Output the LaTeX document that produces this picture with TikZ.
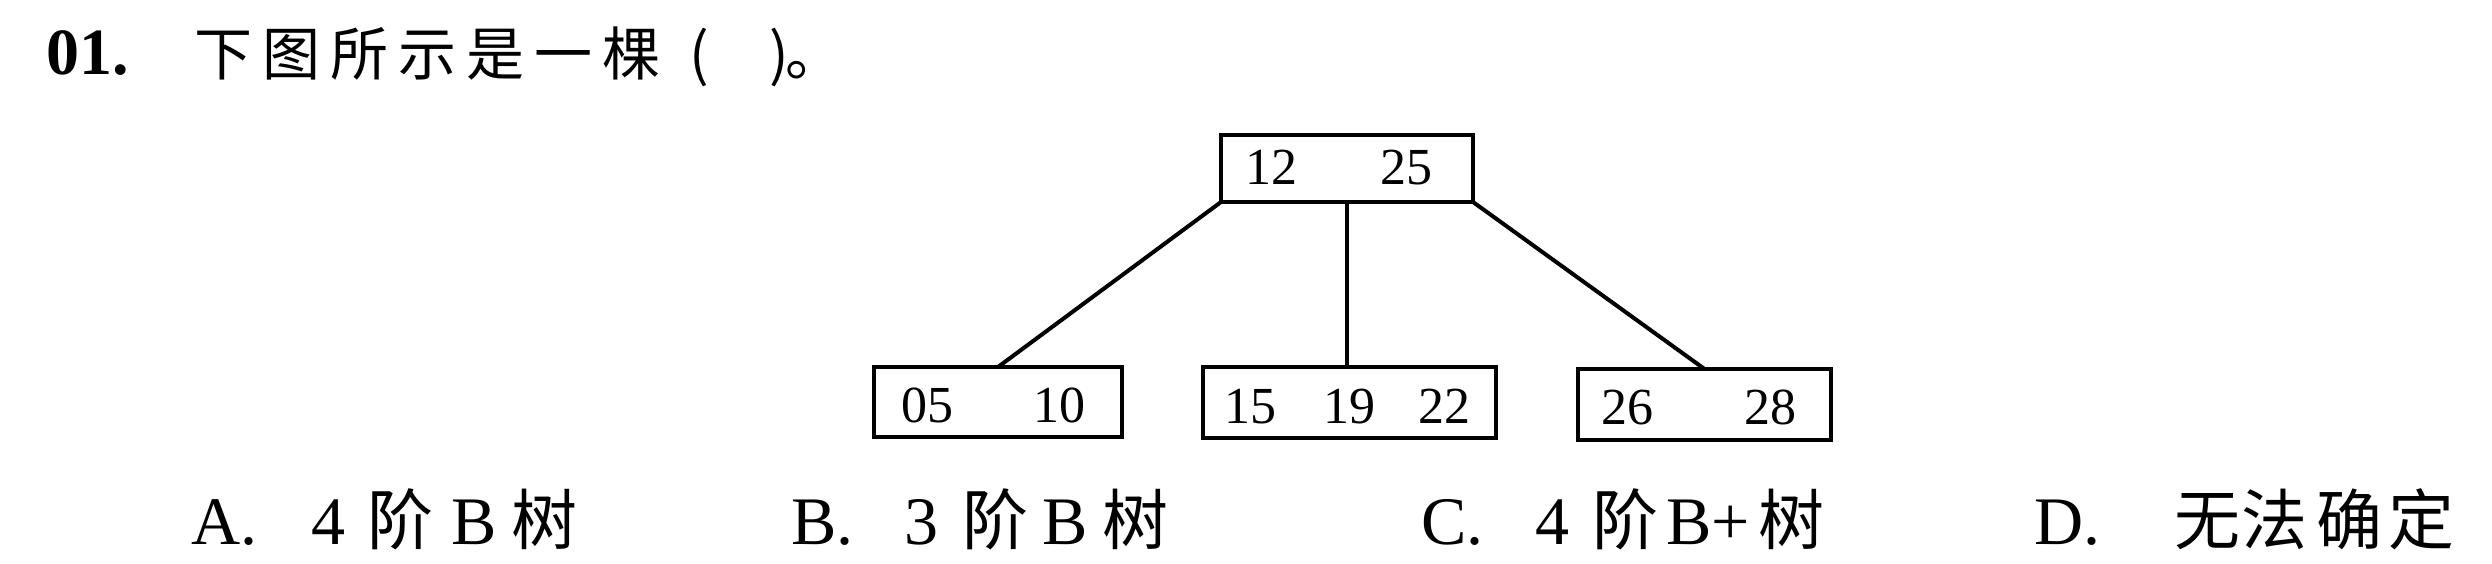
\documentclass[tikz,border=0pt]{standalone}
\usepackage{fontspec}
\setmainfont{Liberation Serif}
\newfontfamily\cjk{Noto Sans CJK SC}
\begin{document}
\begin{tikzpicture}[x=1pt,y=-1pt,
  keybox/.style={draw=black,line width=4.5pt,inner sep=0pt,outer sep=0pt},
  num/.style={anchor=base west,inner sep=0pt,font=\fontsize{52pt}{60pt}\selectfont},
  lat/.style={anchor=base west,inner sep=0pt,font=\fontsize{68pt}{80pt}\selectfont},
  han/.style={anchor=base,inner sep=0pt,font=\cjk\fontsize{66pt}{76pt}\selectfont},
  than/.style={anchor=base,inner sep=0pt,font=\cjk\fontsize{58pt}{66pt}\selectfont},
  link/.style={line width=4pt}]
\useasboundingbox[fill=white] (0,0) rectangle (2492,564);
% title
\node[anchor=base west,inner sep=0pt,font=\bfseries\fontsize{66pt}{76pt}\selectfont] (qno) at (46,75) {01.};
\node[than] (t1) at (223,76) {下};
\node[than] (t2) at (291,76) {图};
\node[than] (t3) at (359,76) {所};
\node[than] (t4) at (427,76) {示};
\node[than] (t5) at (495,76) {是};
\node[than] (t6) at (563,76) {一};
\node[than] (t7) at (631,76) {棵};
\node[than] (t8) at (699,76) {(};
\node[than] (t9) at (779,76) {)};
\node[anchor=base west,inner sep=0pt,font=\cjk\fontsize{58pt}{66pt}\selectfont] (t10) at (785,76) {。};
% boxes
\node[keybox,minimum width=252pt,minimum height=67pt] (root) at (1347,168.5) {};
\node[keybox,minimum width=248pt,minimum height=70pt] (left) at (998,402) {};
\node[keybox,minimum width=293pt,minimum height=71pt] (mid) at (1349.5,402.5) {};
\node[keybox,minimum width=253pt,minimum height=71pt] (right) at (1704.5,404.5) {};
% keys
\node[num] (k12) at (1245,185) {12};
\node[num] (k25) at (1380,185) {25};
\node[num] (k05) at (901,422) {05};
\node[num] (k10) at (1033,422) {10};
\node[num] (k15) at (1224,423) {15};
\node[num] (k19) at (1323,423) {19};
\node[num] (k22) at (1418,423) {22};
\node[num] (k26) at (1601,424) {26};
\node[num] (k28) at (1744,424) {28};
% links
\draw[link] (root.south west) -- (left.north);
\draw[link] (root.south) -- (root.south |- mid.north);
\draw[link] (root.south east) -- (right.north);
% options
\node[lat] (oa) at (191,544) {A.};
\node[lat] (oa1) at (311,544) {4};
\node[han] (oa2) at (400,544) {阶};
\node[lat] (oa3) at (451,544) {B};
\node[han] (oa4) at (544.5,544) {树};
\node[lat] (ob) at (791,544) {B.};
\node[lat] (ob1) at (904,544) {3};
\node[han] (ob2) at (995,544) {阶};
\node[lat] (ob3) at (1042,544) {B};
\node[han] (ob4) at (1135.5,544) {树};
\node[lat] (oc) at (1421,544) {C.};
\node[lat] (oc1) at (1535,544) {4};
\node[han] (oc2) at (1625,544) {阶};
\node[lat] (oc3) at (1666,544) {B+};
\node[han] (oc4) at (1791,544) {树};
\node[lat] (od) at (2034,544) {D.};
\node[han] (od1) at (2207,544) {无};
\node[han] (od2) at (2274.5,544) {法};
\node[han] (od3) at (2349.5,544) {确};
\node[han] (od4) at (2421,544) {定};
\end{tikzpicture}
\end{document}
